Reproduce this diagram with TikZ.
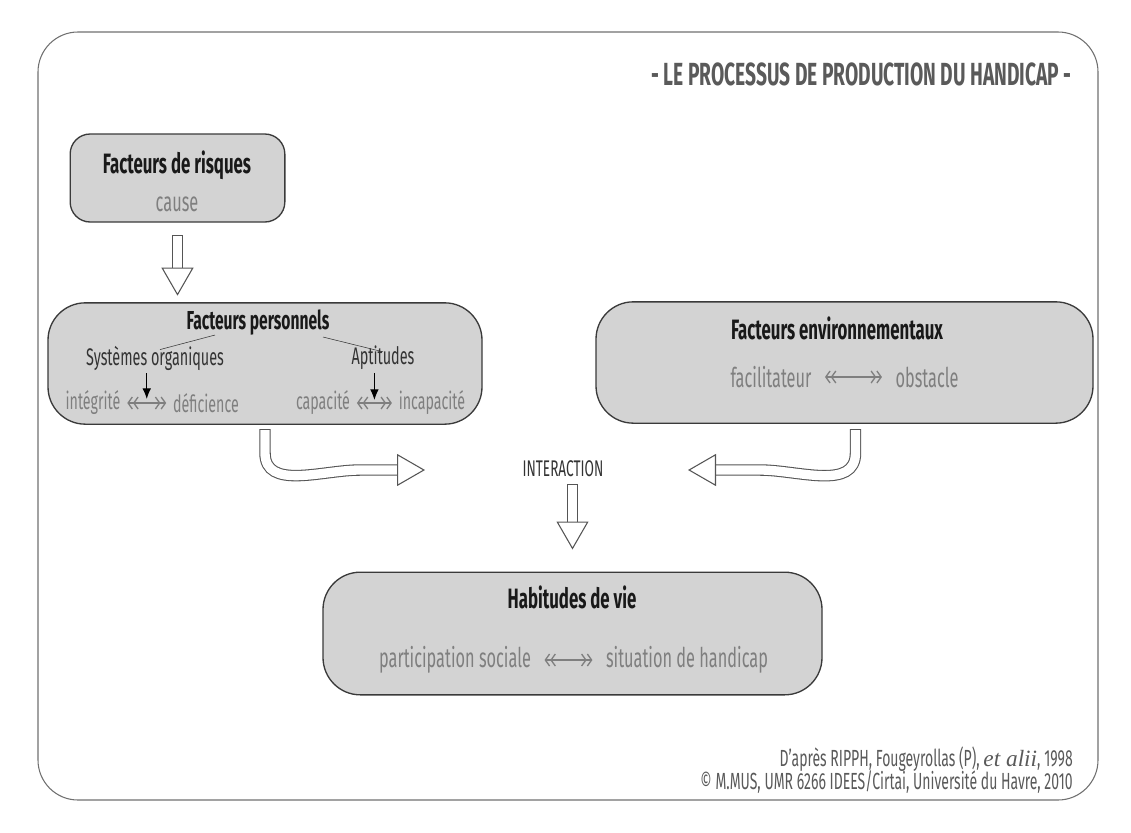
\documentclass[tikz,border=0pt]{standalone}
\usepackage{fontspec}
\setmainfont{Fira Sans}[FakeStretch=0.6]
\newfontfamily\serifit{Liberation Serif}
\usepackage{xcolor}
\usetikzlibrary{arrows.meta}
\usetikzlibrary{calc}

\definecolor{boxfill}{HTML}{D3D3D3}
\definecolor{boxline}{HTML}{3A3A3A}
\definecolor{framegray}{HTML}{707070}
\definecolor{headgray}{HTML}{5A5A5A}
\definecolor{txtgray}{HTML}{7F7F7F}
\definecolor{subgray}{HTML}{333333}
\definecolor{arrgray}{HTML}{555555}

\begin{document}
\begin{tikzpicture}[x=0.75pt,y=-0.75pt]
	%\draw[help lines] (0,0) grid (1131,832);
	\useasboundingbox (0,0) rectangle (1131,832);

	\tikzstyle{bigbox} = [rectangle,draw=boxline,fill=boxfill,line width=1pt,rounded corners=28pt,minimum height=91pt]
	\tikzstyle{smallbox} = [rectangle,draw=boxline,fill=boxfill,line width=1pt,rounded corners=15pt]
	\tikzstyle{htitle} = [inner sep=0pt,text=black!90,font=\bfseries\fontsize{21}{24}\selectfont]
	\tikzstyle{subtext} = [inner sep=0pt,text=subgray,font=\fontsize{18}{21}\selectfont]
	\tikzstyle{stext} = [inner sep=0pt,text=txtgray,font=\fontsize{17.8}{21}\selectfont]
	\tikzstyle{ltext} = [inner sep=0pt,text=txtgray,font=\fontsize{20.4}{23}\selectfont]
	\tikzstyle{credit} = [inner sep=0pt,text=headgray,font=\fontsize{17.5}{20}\selectfont]
	\tikzstyle{dbl} = [<<->>,>={Straight Barb[length=3.2pt,width=9pt,line width=1pt]},txtgray,line width=0.8pt,shorten <=5pt,shorten >=5pt]
	\tikzstyle{dblw} = [dbl,shorten <=10pt,shorten >=10pt]
	\tikzstyle{pedge} = [-{Latex[length=8pt,width=6.5pt]},thick]
	\tikzstyle{bshaft} = [draw=arrgray,double=white,double distance=7pt,line width=0.8pt,line cap=rect,shorten >=14pt]
	\tikzstyle{bhead} = [draw=white,line width=0.8pt,-{Triangle[length=21pt,width=24pt,fill=white,color=arrgray,line width=0.8pt]}]

	% frame and title
	\draw[framegray,line width=0.8pt,rounded corners=30pt] (38,32) rectangle (1098,800);
	\node[inner sep=0pt,anchor=east,text=headgray,font=\bfseries\fontsize{24}{28}\selectfont] (title) at (1072,74) {- LE PROCESSUS DE PRODUCTION DU HANDICAP -};

	% boxes
	\node[smallbox,minimum width=161pt,minimum height=66pt] (risk) at (177.5,178) {};
	\node[bigbox,minimum width=325.5pt] (perso) at (265,363.5) {};
	\node[bigbox,minimum width=372.75pt] (env) at (844.5,362.5) {};
	\node[bigbox,minimum width=374.25pt,minimum height=92pt] (habit) at (572.5,633.5) {};

	% texts
	\node[htitle] (riskt) at (177,165) {Facteurs de risques};
	\node[ltext] (cause) at (177,204) {cause};

	\node[htitle,font=\bfseries\fontsize{19.5}{23}\selectfont] (persot) at (258,323) {Facteurs personnels};
	\node[subtext] (sysorg) at (155,358) {Systèmes organiques};
	\node[subtext] (aptit) at (383,358) {Aptitudes};
	\node[stext] (integ) at (93,403) {intégrité};
	\node[stext] (defic) at (206,403) {déficience};
	\node[stext] (capac) at (323,403) {capacité};
	\node[stext] (incap) at (432,403) {incapacité};

	\node[htitle] (envt) at (837,328) {Facteurs environnementaux};
	\node[ltext] (facil) at (771,377) {facilitateur};
	\node[ltext] (obst) at (927,377) {obstacle};

	\node[inner sep=0pt,text=subgray,font=\fontsize{17}{20}\selectfont] (inter) at (563,469) {INTERACTION};

	\node[htitle] (habitt) at (572,597) {Habitudes de vie};
	\node[ltext] (partic) at (455,660) {participation sociale};
	\node[ltext] (situ) at (687,660) {situation de handicap};

	\node[credit,anchor=east] (cred1) at (1073,759) {D'après RIPPH, Fougeyrollas (P), {\serifit\itshape et alii}, 1998};
	\node[credit,anchor=east] (cred2) at (1073,782) {© M.MUS, UMR 6266 IDEES/Cirtai, Université du Havre, 2010};

	\coordinate (m1) at ($(integ.east)!0.5!(defic.west)$);
	\coordinate (m2) at ($(capac.east)!0.5!(incap.west)$);

	% links inside the boxes
	\draw[subgray,thin] ($(persot.south)+(-43,-1)$) -- ($(sysorg.north)+(5,4)$);
	\draw[subgray,thin] ($(persot.south)+(65,1)$) -- ($(aptit.north)+(0,6)$);
	\draw (integ) edge [dbl] (defic);
	\draw (capac) edge [dbl] (incap);
	\draw (facil) edge [dblw] (obst);
	\draw (partic) edge [dblw] (situ);
	\draw[pedge] ([yshift=-2pt]sysorg.south -| m1) -- ($(m1)+(0,-4)$);
	\draw[pedge] ([yshift=-2pt]aptit.south -| m2) -- ($(m2)+(0,-3)$);

	% block arrows
	\draw[bshaft] ($(risk.south)+(0,18)$) -- ($(risk.south)+(0,73)$);
	\draw[bhead] ($(risk.south)+(0,18)$) -- ($(risk.south)+(0,73)$);

	\draw[bshaft] ($(perso.south)+(0,10)$) -- ++(0,18) to[out=-90,in=180] (360,470) -- (425,470);
	\draw[bhead] ($(perso.south)+(0,10)$) -- ++(0,18) to[out=-90,in=180] (360,470) -- (425,470);

	\draw[bshaft] ($(env.south)+(11,11)$) -- ++(0,18) to[out=-90,in=0] (760,470) -- (688,470);
	\draw[bhead] ($(env.south)+(11,11)$) -- ++(0,18) to[out=-90,in=0] (760,470) -- (688,470);

	\draw[bshaft] ($(habit.north)+(0,-82)$) -- ($(habit.north)+(0,-22)$);
	\draw[bhead] ($(habit.north)+(0,-82)$) -- ($(habit.north)+(0,-22)$);

\end{tikzpicture}
\end{document}
